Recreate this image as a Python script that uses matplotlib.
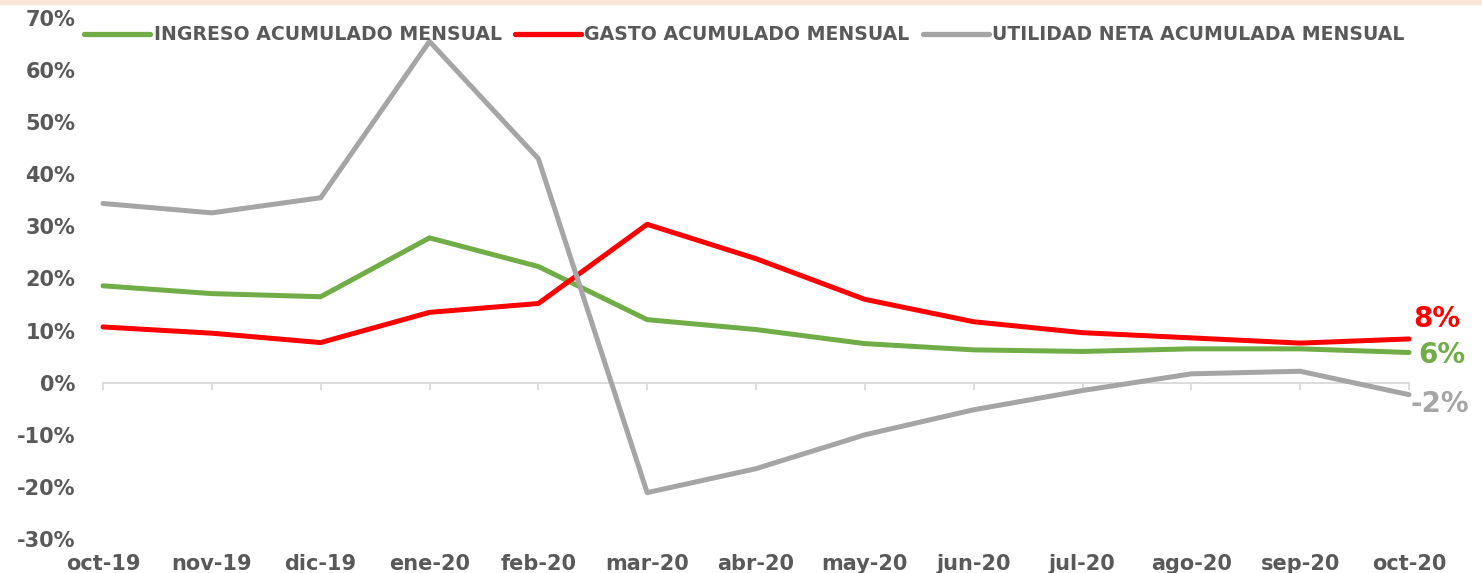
import matplotlib.pyplot as plt
from matplotlib.patches import Rectangle
from matplotlib.ticker import PercentFormatter

plt.rcParams['axes.unicode_minus'] = False

# datos
meses = ['oct-19', 'nov-19', 'dic-19', 'ene-20', 'feb-20', 'mar-20', 'abr-20',
         'may-20', 'jun-20', 'jul-20', 'ago-20', 'sep-20', 'oct-20']
ingreso = [0.186, 0.171, 0.165, 0.278, 0.223, 0.121, 0.102, 0.075, 0.063,
           0.060, 0.065, 0.065, 0.058]
gasto = [0.107, 0.095, 0.077, 0.135, 0.152, 0.304, 0.238, 0.160, 0.117,
         0.096, 0.086, 0.076, 0.084]
utilidad = [0.344, 0.326, 0.355, 0.655, 0.430, -0.211, -0.165, -0.100, -0.052,
            -0.015, 0.017, 0.022, -0.023]
etiquetas_fin = ['8%', '6%', '-2%']

verde = '#70AD47'
rojo = '#FF0000'
gris = '#A5A5A5'
texto = '#595959'

W, H = 1482, 573
fig = plt.figure(figsize=(W / 100, H / 100), dpi=100)
fig.patches.append(Rectangle((0, 1 - 4 / H), 1, 4 / H, transform=fig.transFigure,
                             color='#FBE5D6', zorder=0))

ax = fig.add_axes([103 / W, 1 - 539 / H, (1409 - 103) / W, (539 - 18) / H])
x = list(range(len(meses)))

series = [
    ('INGRESO ACUMULADO MENSUAL', ingreso, verde),
    ('GASTO ACUMULADO MENSUAL', gasto, rojo),
    ('UTILIDAD NETA ACUMULADA MENSUAL', utilidad, gris),
]
for nombre, vals, col in series:
    ax.plot(x, vals, color=col, lw=3.6, label=nombre,
            solid_joinstyle='round', solid_capstyle='round', clip_on=False, zorder=3)

ax.set_xlim(0, len(meses) - 1)
ax.set_ylim(-0.3, 0.7)
ax.set_yticks([i / 10 for i in range(-3, 8)])
ax.yaxis.set_major_formatter(PercentFormatter(1.0, decimals=0))

for s in ['top', 'right', 'left']:
    ax.spines[s].set_visible(False)
ax.spines['bottom'].set_position(('data', 0))
ax.spines['bottom'].set_color('#D9D9D9')
ax.spines['bottom'].set_linewidth(1.3)
ax.set_xticks(x)
ax.tick_params(axis='x', length=5, width=1.3, color='#D9D9D9', labelbottom=False)
ax.tick_params(axis='y', length=0, pad=20, labelcolor=texto)
for lb in ax.get_yticklabels():
    lb.set_fontsize(15)
    lb.set_fontweight('bold')

# etiquetas de meses abajo
sec = ax.secondary_xaxis(0.0)
sec.set_xticks(x)
sec.set_xticklabels(meses, fontsize=15, fontweight='bold', color=texto)
sec.tick_params(length=0, pad=11)
sec.spines['bottom'].set_visible(False)

# etiquetas al final de cada serie
offsets = [(3, 14), (7, -2), (1, -7)]
for (nombre, vals, col), et, off in zip([series[1], series[0], series[2]],
                                        etiquetas_fin, offsets):
    ax.annotate(et, (x[-1], vals[-1]), xytext=off, textcoords='offset points',
                ha='left', va='center', color=col, fontsize=20, fontweight='bold')

leg = fig.legend(loc='center left', bbox_to_anchor=(84 / W, 1 - 35 / H), ncol=3,
                 frameon=False, fontsize=13.6, handlelength=3.5, handletextpad=0.18,
                 columnspacing=0.7, borderpad=0, borderaxespad=0)
for t in leg.get_texts():
    t.set_color(texto)
    t.set_fontweight('bold')
for h in leg.get_lines():
    h.set_linewidth(3.8)

fig.savefig('out.png', dpi=100)
